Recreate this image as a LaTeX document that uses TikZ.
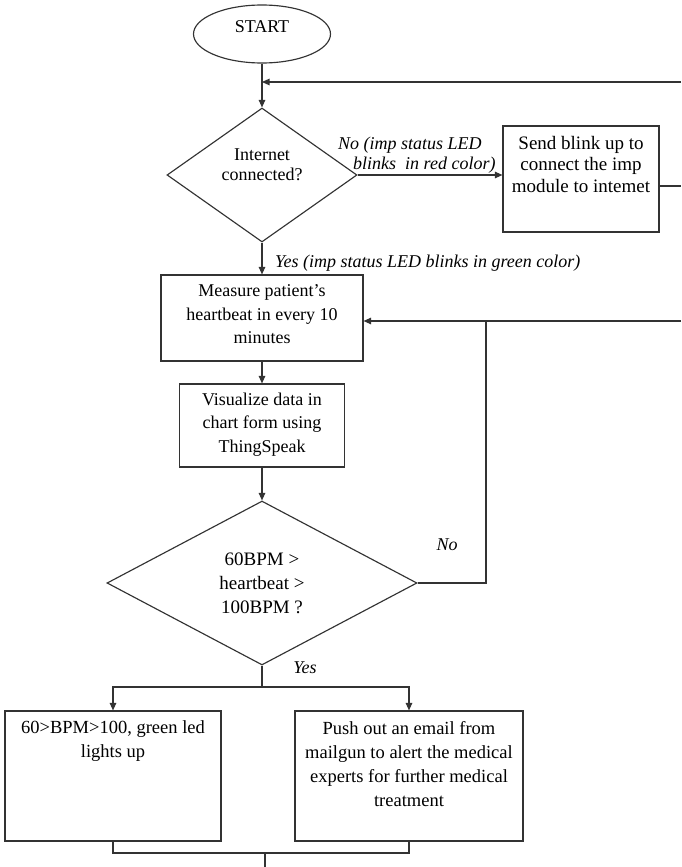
\documentclass[tikz,border=0pt]{standalone}
\usepackage{fontspec}
\setmainfont{Liberation Serif}
\usetikzlibrary{shapes.geometric,arrows.meta,calc}

% top-aligned, centred text block of fixed size: width, height, top pad, text
\newcommand{\topblock}[4]{\parbox[t][#2][t]{#1}{\vspace*{#3}\centering #4\par}}

\begin{document}
\begin{tikzpicture}[x=1pt,y=-1pt,
  ink/.style={draw=black!80, line width=1.15pt},
  line/.style={ink},
  arr/.style={ink, -{Triangle[length=7.5pt,width=6.5pt]}},
  box/.style={ink, rectangle, inner sep=0pt,
    font=\fontsize{18}{23.5}\selectfont},
  dia/.style={ink, diamond, inner sep=0pt, align=center},
  lab/.style={inner sep=0pt, font=\fontsize{18}{20}\selectfont\itshape}
]
\useasboundingbox (0,0) rectangle (681,867);

% ---- nodes ----
\node[ink, ellipse, minimum width=137pt, minimum height=58pt, inner sep=0pt,
      text depth=14pt, font=\fontsize{18}{20}\selectfont] (start) at (262,34) {START};

\node[dia, minimum width=190pt, minimum height=134pt, text depth=20pt,
      font=\fontsize{18}{20}\selectfont] (net) at (262,175) {Internet\\connected?};

\node[box, font=\fontsize{19}{21.5}\selectfont] (blink) at (581,179)
  {\topblock{156pt}{106pt}{10pt}{Send blink up to\\connect the imp\\module to intemet}};

\node[box] (meas) at (262,318)
  {\topblock{202pt}{86pt}{10pt}{Measure patient's\\heartbeat in every 10\\minutes}};

\node[box] (vis) at (262,425.5)
  {\topblock{165pt}{83pt}{9pt}{Visualize data in\\chart form using\\ThingSpeak}};

\node[dia, minimum width=310pt, minimum height=164pt,
      font=\fontsize{19}{24}\selectfont] (hb) at (262,583) {60BPM >\\heartbeat >\\100BPM ?};

\node[box, font=\fontsize{18.5}{24}\selectfont] (led) at (113,776)
  {\topblock{216pt}{130pt}{10pt}{60>BPM>100, green led\\lights up}};

\node[box, font=\fontsize{18.5}{24}\selectfont] (mail) at (409,776)
  {\topblock{228pt}{130pt}{10pt}{Push out an email from\\mailgun to alert the medical\\experts for further medical\\treatment}};

% ---- branch labels ----
\node[lab, anchor=south west, align=left] (nolab) at (338,174)
  {No (imp status LED\\\hspace*{15pt}blinks\ \ in red color)};
\node[lab, anchor=base west] (yeslab) at (275,267) {Yes (imp status LED blinks in green color)};
\node[lab] (no2) at (447,545) {No};
\node[lab] (yes2) at (305,668) {Yes};

% ---- junction points ----
\coordinate (r1) at (681,82);
\coordinate (r2) at (681,186);
\coordinate (r3) at (681,321);
\coordinate (j)  at (486,321);
\coordinate (sp) at (262,687);
\coordinate (mj) at (265,853);
\coordinate (out) at (265,867);

% ---- connectors ----
\draw[arr] (start.south) -- (net.north);
\draw[arr] (r1) -- (start.south |- r1);
\draw[arr] (net.east) -- (blink.west |- net.east);
\draw[line] (blink.east |- r2) -- (r2);
\draw[arr] (net.south) -- (meas.north);
\draw[arr] (r3) -- (meas.east |- j);
\draw[line] (hb.east) -| (j);
\draw[arr] (meas.south) -- (vis.north);
\draw[arr] (vis.south) -- (hb.north);
\draw[line] (hb.south) -- (sp);
\draw[arr] (sp) -| (led.north);
\draw[arr] (sp) -| (mail.north);
\draw[line] (led.south) |- (mj) -| (mail.south);
\draw[line] (mj) -- (out);
\end{tikzpicture}
\end{document}
